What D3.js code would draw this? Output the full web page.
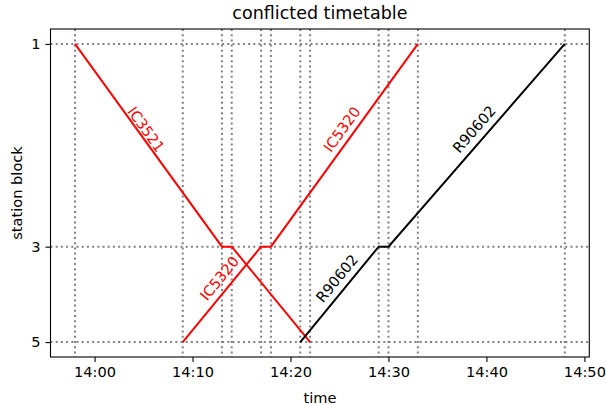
<!DOCTYPE html>
<html>
<head>
<meta charset="utf-8">
<script src="https://cdn.jsdelivr.net/npm/d3@7"></script>
<style>
  body { margin: 0; background: #fff; }
  svg { display: block; font-family: "DejaVu Sans", sans-serif; }
</style>
</head>
<body>
<div id="chart"></div>
<script>
// station blocks (tick labels) and their position along the line
var blockLabels = ["1", "3", "5"];
var blockPos = [0, 6.8, 10];

// trains: name, colour, passing times and blocks
var trainNames = ["IC3521", "IC5320", "R90602"];
var trainColors = ["red", "red", "black"];
var trainTimes = [
	["13:58", "14:13", "14:14", "14:22"],
	["14:09", "14:17", "14:18", "14:33"],
	["14:21", "14:29", "14:30", "14:48"]
];
var trainBlocks = [
	["1", "3", "3", "5"],
	["5", "3", "3", "1"],
	["5", "3", "3", "1"]
];
// which segments carry a label
var labelSegments = [[0], [0, 2], [0, 2]];

var xTicks = ["14:00", "14:10", "14:20", "14:30", "14:40", "14:50"];

var width = 606,
	height = 405;
var margin = {top: 29, right: 16.7, bottom: 48, left: 50.5};
var fs = 14.6; // tick / label font size

var parse = d3.timeParse("%H:%M");
var fmt = d3.timeFormat("%H:%M");

var svg = d3.select("#chart").append("svg")
	.attr("width", width)
	.attr("height", height);

var allTimes = trainTimes.flat().map(parse);
var tMin = d3.min(allTimes), tMax = d3.max(allTimes);
var pad = (tMax - tMin) * 0.05;

var x = d3.scaleTime()
	.domain([new Date(+tMin - pad), new Date(+tMax + pad)])
	.range([margin.left, width - margin.right]);

var pMin = d3.min(blockPos), pMax = d3.max(blockPos);
var pPad = (pMax - pMin) * 0.05;
var y = d3.scaleLinear()
	.domain([pMin - pPad, pMax + pPad])
	.range([margin.top, height - margin.bottom]);

function blockY(b) { return y(blockPos[blockLabels.indexOf(b)]); }

// clip for gridlines/lines
svg.append("clipPath").attr("id", "clip")
	.append("rect")
	.attr("x", margin.left).attr("y", margin.top)
	.attr("width", width - margin.left - margin.right)
	.attr("height", height - margin.top - margin.bottom);

var grid = svg.append("g").attr("clip-path", "url(#clip)");

// vertical dotted lines at every passing time
var uniqTimes = Array.from(new Set(trainTimes.flat())).map(parse);
grid.selectAll(".vgrid")
	.data(uniqTimes)
	.enter()
	.append("line")
	.attr("class", "vgrid")
	.attr("x1", d => x(d)).attr("x2", d => x(d))
	.attr("y1", margin.top).attr("y2", height - margin.bottom)
	.attr("stroke", "grey")
	.attr("stroke-width", 2)
	.attr("stroke-dasharray", "2,3.2");

// horizontal dotted lines at each block
grid.selectAll(".hgrid")
	.data(blockPos)
	.enter()
	.append("line")
	.attr("class", "hgrid")
	.attr("x1", margin.left).attr("x2", width - margin.right)
	.attr("y1", d => y(d)).attr("y2", d => y(d))
	.attr("stroke", "grey")
	.attr("stroke-width", 2)
	.attr("stroke-dasharray", "2,3.2");

// train paths
var line = d3.line()
	.x(d => x(d.t))
	.y(d => blockY(d.b));

trainNames.forEach(function(name, i){
	var pts = trainTimes[i].map((t, j) => ({t: parse(t), b: trainBlocks[i][j]}));

	svg.append("path")
		.datum(pts)
		.attr("d", line)
		.attr("fill", "none")
		.attr("stroke", trainColors[i])
		.attr("stroke-width", 2);

	labelSegments[i].forEach(function(s){
		var a = pts[s], b = pts[s + 1];
		var x1 = x(a.t), y1 = blockY(a.b), x2 = x(b.t), y2 = blockY(b.b);
		var ang = Math.atan2(y2 - y1, x2 - x1) * 180 / Math.PI;
		if (ang > 90) ang -= 180;
		if (ang < -90) ang += 180;
		var mx = (x1 + x2) / 2 - 2.5,
			my = (y1 + y2) / 2 - 16;
		svg.append("text")
			.attr("transform", "translate(" + mx + "," + my + ") rotate(" + ang + ")")
			.attr("text-anchor", "middle")
			.attr("dy", "0.35em")
			.attr("font-size", fs)
			.attr("fill", trainColors[i])
			.text(name);
	});
});

// frame
svg.append("rect")
	.attr("x", margin.left).attr("y", margin.top)
	.attr("width", width - margin.left - margin.right)
	.attr("height", height - margin.top - margin.bottom)
	.attr("fill", "none")
	.attr("stroke", "black")
	.attr("stroke-width", 1.1);

// x axis
var xAxis = d3.axisBottom(x)
	.tickValues(xTicks.map(parse))
	.tickFormat(fmt)
	.tickSize(5)
	.tickPadding(5);

var gx = svg.append("g")
	.attr("transform", "translate(0," + (height - margin.bottom) + ")")
	.call(xAxis);
gx.select(".domain").remove();
gx.selectAll("line").attr("stroke-width", 1.1);
gx.selectAll("text")
	.attr("font-size", fs)
	.attr("font-family", "DejaVu Sans")
	.attr("fill", "black");

// y axis
var yAxis = d3.axisLeft(y)
	.tickValues(blockPos)
	.tickFormat((d, i) => blockLabels[i])
	.tickSize(5)
	.tickPadding(5);

var gy = svg.append("g")
	.attr("transform", "translate(" + margin.left + ",0)")
	.call(yAxis);
gy.select(".domain").remove();
gy.selectAll("line").attr("stroke-width", 1.1);
gy.selectAll("text")
	.attr("font-size", fs)
	.attr("font-family", "DejaVu Sans")
	.attr("fill", "black");

// labels
svg.append("text")
	.attr("x", (margin.left + width - margin.right) / 2)
	.attr("y", 402.5)
	.attr("text-anchor", "middle")
	.attr("font-size", fs)
	.text("time");

svg.append("text")
	.attr("transform", "translate(22," + ((margin.top + height - margin.bottom) / 2) + ") rotate(-90)")
	.attr("text-anchor", "middle")
	.attr("font-size", fs)
	.text("station block");

svg.append("text")
	.attr("x", (margin.left + width - margin.right) / 2)
	.attr("y", 19)
	.attr("text-anchor", "middle")
	.attr("font-size", 17.5)
	.text("conflicted timetable");
</script>
</body>
</html>
